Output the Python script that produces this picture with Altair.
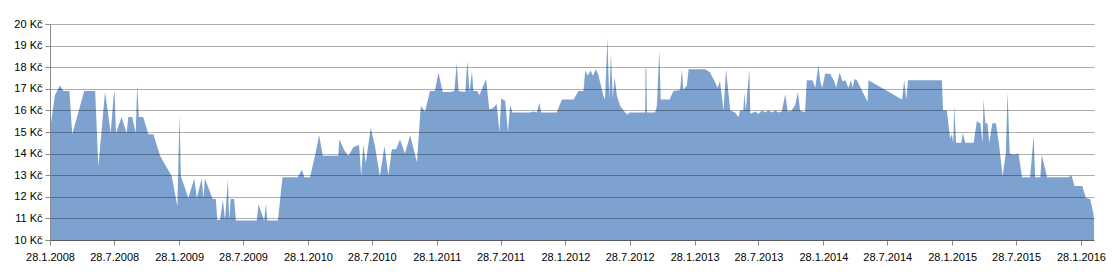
import altair as alt
import pandas as pd

# Price history (Kč)
dates = [
    "2008-01-28", "2008-02-11", "2008-02-25", "2008-03-06", "2008-03-23", "2008-03-31",
    "2008-05-04", "2008-06-04", "2008-06-13", "2008-07-02", "2008-07-18", "2008-07-26",
    "2008-07-29", "2008-08-02", "2008-08-18", "2008-09-01", "2008-09-06", "2008-09-17",
    "2008-09-27", "2008-10-01", "2008-10-06", "2008-10-18", "2008-11-02", "2008-11-16",
    "2008-12-05", "2009-01-07", "2009-01-23", "2009-01-29", "2009-02-02", "2009-02-23",
    "2009-03-12", "2009-03-19", "2009-04-02", "2009-04-07", "2009-04-11", "2009-05-03",
    "2009-05-12", "2009-05-16", "2009-05-24", "2009-06-01", "2009-06-07", "2009-06-15",
    "2009-06-19", "2009-06-23", "2009-07-03", "2009-07-08", "2009-09-05", "2009-09-10",
    "2009-09-26", "2009-10-01", "2009-10-05", "2009-11-01", "2009-11-04", "2009-11-17",
    "2009-12-30", "2010-01-11", "2010-01-18", "2010-02-03", "2010-02-17", "2010-03-01",
    "2010-03-11", "2010-04-24", "2010-04-27", "2010-05-13", "2010-05-23", "2010-06-06",
    "2010-06-22", "2010-06-28", "2010-07-04", "2010-07-11", "2010-07-25", "2010-08-06",
    "2010-08-20", "2010-09-02", "2010-09-13", "2010-09-23", "2010-10-05", "2010-10-16",
    "2010-10-30", "2010-11-14", "2010-11-23", "2010-12-03", "2010-12-14", "2010-12-26",
    "2011-01-09", "2011-01-23", "2011-02-02", "2011-02-14", "2011-03-07", "2011-03-19",
    "2011-03-26", "2011-03-31", "2011-04-19", "2011-04-25", "2011-05-01", "2011-05-08",
    "2011-05-12", "2011-05-23", "2011-05-29", "2011-06-17", "2011-06-26", "2011-07-06",
    "2011-07-17", "2011-07-25", "2011-07-30", "2011-08-10", "2011-08-18", "2011-08-24",
    "2011-08-31", "2011-10-20", "2011-10-29", "2011-11-08", "2011-11-15", "2011-11-20",
    "2012-01-03", "2012-01-18", "2012-02-20", "2012-03-05", "2012-03-19", "2012-03-24",
    "2012-03-31", "2012-04-08", "2012-04-15", "2012-04-23", "2012-04-30", "2012-05-15",
    "2012-05-19", "2012-05-26", "2012-05-31", "2012-06-05", "2012-06-10", "2012-06-15",
    "2012-06-22", "2012-07-01", "2012-07-15", "2012-07-22", "2012-07-27", "2012-09-10",
    "2012-09-11", "2012-09-13", "2012-09-15", "2012-10-08", "2012-10-13", "2012-10-20",
    "2012-10-24", "2012-11-18", "2012-11-29", "2012-12-18", "2012-12-23", "2012-12-27",
    "2013-01-06", "2013-01-11", "2013-02-27", "2013-03-13", "2013-03-27", "2013-04-03",
    "2013-04-10", "2013-04-20", "2013-04-27", "2013-05-09", "2013-05-23", "2013-06-01",
    "2013-06-06", "2013-06-15", "2013-06-18", "2013-06-22", "2013-07-02", "2013-07-05",
    "2013-07-19", "2013-07-28", "2013-08-07", "2013-08-16", "2013-08-25", "2013-09-05",
    "2013-09-13", "2013-09-23", "2013-10-02", "2013-10-12", "2013-10-19", "2013-10-30",
    "2013-11-09", "2013-11-17", "2013-11-23", "2013-12-07", "2013-12-12", "2013-12-28",
    "2014-01-05", "2014-01-14", "2014-01-19", "2014-01-25", "2014-02-02", "2014-02-16",
    "2014-02-28", "2014-03-05", "2014-03-15", "2014-03-23", "2014-03-31", "2014-04-09",
    "2014-04-16", "2014-04-21", "2014-04-26", "2014-05-03", "2014-06-02", "2014-06-05",
    "2014-09-08", "2014-09-14", "2014-09-20", "2014-09-25", "2014-12-30", "2015-01-02",
    "2015-01-13", "2015-01-22", "2015-01-27", "2015-01-31", "2015-02-03", "2015-02-08",
    "2015-02-23", "2015-02-27", "2015-03-06", "2015-03-30", "2015-04-08", "2015-04-18",
    "2015-04-24", "2015-04-27", "2015-05-02", "2015-05-08", "2015-05-13", "2015-05-22",
    "2015-06-01", "2015-06-10", "2015-06-20", "2015-06-29", "2015-07-04", "2015-07-10",
    "2015-07-21", "2015-08-04", "2015-08-14", "2015-09-06", "2015-09-16", "2015-09-20",
    "2015-10-05", "2015-10-09", "2015-10-24", "2015-12-24", "2016-01-01", "2016-01-10",
    "2016-02-01", "2016-02-11", "2016-02-23", "2016-03-03", "2016-03-05",
]

prices = [
    15.1, 16.7, 17.15, 16.9, 16.9, 14.9,
    16.9, 16.9, 13.4, 16.85, 14.95, 16.6,
    16.9, 14.95, 15.7, 14.95, 15.7, 15.7,
    14.95, 17.15, 15.7, 15.7, 14.9, 14.9,
    13.9, 12.95, 11.55, 15.8, 12.95, 11.95,
    12.85, 11.95, 12.85, 11.95, 12.85, 11.9,
    11.9, 10.93, 10.93, 11.85, 10.93, 12.8,
    10.93, 11.9, 11.9, 10.9, 10.9, 11.65,
    10.9, 11.65, 10.9, 10.9, 10.9, 12.9,
    12.9, 13.25, 12.9, 12.9, 13.9, 14.85,
    13.9, 13.9, 14.65, 14.1, 13.9, 14.3,
    14.4, 12.95, 14.45, 13.55, 15.2, 14.35,
    12.95, 14.35, 13.0, 14.2, 14.2, 14.65,
    14.0, 14.85, 14.25, 13.6, 16.2, 15.95,
    16.9, 16.9, 17.75, 16.85, 16.85, 16.9,
    18.2, 16.9, 16.85, 18.3, 16.85, 17.8,
    16.9, 16.9, 16.7, 17.45, 16.05, 16.1,
    16.3, 15.0, 16.55, 16.45, 15.0, 16.25,
    15.9, 15.9, 15.95, 15.9, 16.35, 15.9,
    15.9, 16.5, 16.5, 16.9, 16.9, 17.85,
    17.6, 17.85, 17.6, 17.9, 17.65, 16.65,
    16.5, 19.35, 16.5, 18.65, 16.55, 17.55,
    16.65, 16.2, 15.9, 15.8, 15.9, 15.9,
    17.95, 17.95, 15.9, 15.9, 16.2, 18.8,
    16.5, 16.5, 16.9, 16.95, 17.9, 16.95,
    17.15, 17.9, 17.9, 17.75, 17.3, 17.05,
    17.35, 16.0, 17.9, 16.0, 15.9, 15.7,
    16.0, 16.0, 16.8, 16.0, 17.9, 15.85,
    15.95, 15.85, 16.0, 15.9, 16.0, 15.9,
    16.0, 15.9, 15.95, 16.75, 15.95, 16.0,
    16.25, 16.85, 16.0, 15.9, 17.4, 17.4,
    17.05, 18.1, 17.35, 17.05, 17.7, 17.7,
    17.35, 17.05, 17.75, 17.35, 17.4, 17.05,
    17.4, 17.05, 17.45, 17.4, 16.4, 17.4,
    16.5, 17.4, 16.5, 17.4, 17.4, 16.0,
    16.0, 14.7, 14.9, 14.5, 16.2, 14.5,
    14.5, 14.95, 14.5, 14.5, 15.5, 15.4,
    14.5, 16.5, 15.4, 15.4, 14.5, 15.4,
    15.4, 14.4, 12.95, 14.0, 16.85, 14.0,
    13.95, 14.0, 12.9, 12.9, 14.85, 12.9,
    12.9, 13.95, 12.9, 12.9, 13.0, 12.5,
    12.5, 11.95, 11.9, 11.25, 10.95,
]

# Axis tick positions (every half year on the 28th)
tick_years = [2008, 2008, 2009, 2009, 2010, 2010, 2011, 2011, 2012, 2012,
              2013, 2013, 2014, 2014, 2015, 2015, 2016]
tick_months = [1, 7, 1, 7, 1, 7, 1, 7, 1, 7, 1, 7, 1, 7, 1, 7, 1]
y_ticks = [10, 11, 12, 13, 14, 15, 16, 17, 18, 19, 20]

df = pd.DataFrame({"date": pd.to_datetime(dates), "price": prices})

x_values = [alt.DateTime(year=y, month=m, date=28) for y, m in zip(tick_years, tick_months)]

FONT = "Liberation Sans"

chart = alt.Chart(df).mark_area(
    color="#7EA2D0", interpolate="linear", clip=True
).encode(
    x=alt.X(
        "date:T",
        scale=alt.Scale(domain=[alt.DateTime(year=2008, month=1, date=28),
                                alt.DateTime(year=2016, month=3, date=5)]),
        axis=alt.Axis(
            values=x_values, format="%-d.%-m.%Y", title=None, grid=False,
            labelFont=FONT, labelFontSize=11, labelColor="#000000",
            labelAngle=0, labelOverlap=False, labelFlush=False, labelPadding=6,
            tickSize=5, tickColor="#8a8a8a", domainColor="#8a8a8a",
        ),
    ),
    y=alt.Y(
        "price:Q",
        scale=alt.Scale(domain=[10, 20], zero=False, nice=False),
        axis=alt.Axis(
            values=y_ticks, labelExpr="datum.value + ' Kč'", title=None,
            grid=True, gridColor="#000000", gridOpacity=0.32, gridWidth=1,
            labelFont=FONT, labelFontSize=11, labelColor="#000000",
            labelFlush=False, labelPadding=3, tickSize=5,
            tickColor="#8a8a8a", domainColor="#8a8a8a",
            zindex=1,
        ),
    ),
    y2=alt.datum(10),
).properties(
    width=1044,
    height=216,
    autosize=alt.AutoSizeParams(type="none"),
    padding={"left": 50, "top": 24, "right": 24, "bottom": 36},
    background="white",
).configure_view(stroke=None)

chart.save("out.html", embed_options={"renderer": "svg", "actions": False})
